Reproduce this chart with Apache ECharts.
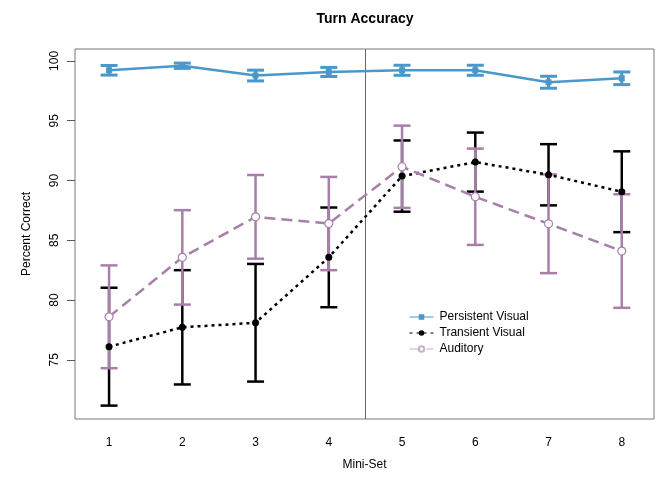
<!DOCTYPE html>
<html>
<head>
<meta charset="utf-8">
<script src="https://cdn.jsdelivr.net/npm/echarts@6/dist/echarts.min.js"></script>
<style>html,body{margin:0;padding:0;background:#fff}#c{width:656px;height:479px}</style>
</head>
<body>
<div id="c"></div>
<script>
const miniSet = [1, 2, 3, 4, 5, 6, 7, 8];
const persistentMean = [99.22, 99.6, 98.78, 99.08, 99.22, 99.22, 98.22, 98.55];
const persistentErr = [0.4, 0.22, 0.45, 0.38, 0.42, 0.42, 0.5, 0.53];
const transientMean = [76.1, 77.72, 78.1, 83.57, 90.37, 91.54, 90.48, 89.06];
const transientErr = [4.93, 4.78, 4.92, 4.17, 2.98, 2.47, 2.56, 3.38];
const auditoryMean = [78.6, 83.57, 86.96, 86.4, 91.15, 88.64, 86.38, 84.1];
const auditoryErr = [4.3, 3.95, 3.5, 3.9, 3.44, 4.03, 4.13, 4.75];
const yTicks = [75, 80, 85, 90, 95, 100];
const seriesNames = ['Persistent Visual', 'Transient Visual', 'Auditory'];
const dividerX = 4.5;

const BLUE = '#4a98c9', PURPLE = '#a87fa8', BLACK = '#000000';
const FONT = '"Liberation Sans", Arial, sans-serif';

function pts(means) { return miniSet.map((x, i) => [x, means[i]]); }
function errs(means, e) { return miniSet.map((x, i) => [x, means[i] - e[i], means[i] + e[i]]); }
function errSeries(name, data, color, lw, z) {
  return {
    type: 'custom', name: name, silent: true, z: z,
    encode: { x: 0, y: [1, 2] },
    data: data,
    renderItem: function (params, api) {
      const x = api.value(0), lo = api.value(1), hi = api.value(2);
      const a = api.coord([x, hi]), b = api.coord([x, lo]);
      const w = 8.5;
      const st = { stroke: color, lineWidth: lw };
      return { type: 'group', children: [
        { type: 'line', shape: { x1: a[0], y1: a[1], x2: b[0], y2: b[1] }, style: st },
        { type: 'line', shape: { x1: a[0] - w, y1: a[1], x2: a[0] + w, y2: a[1] }, style: st },
        { type: 'line', shape: { x1: b[0] - w, y1: b[1], x2: b[0] + w, y2: b[1] }, style: st }
      ]};
    }
  };
}

const chart = echarts.init(document.getElementById('c'));
chart.setOption({
  animation: false,
  backgroundColor: '#fff',
  textStyle: { fontFamily: FONT },
  graphic: [{
    type: 'text', x: 365, y: 19,
    style: { text: 'Turn Accuracy', font: 'bold 14px ' + FONT, fill: '#000', textAlign: 'center', textVerticalAlign: 'middle' }
  }],
  grid: { left: 75, top: 49, right: 2, bottom: 60, show: true, borderColor: '#777', borderWidth: 1, containLabel: false },
  xAxis: {
    type: 'value', min: 0.535, max: 8.44,
    name: 'Mini-Set', nameLocation: 'middle', nameGap: 40,
    nameTextStyle: { fontSize: 12, color: '#000', fontFamily: FONT },
    axisLine: { show: false }, axisTick: { show: false }, splitLine: { show: false },
    axisLabel: { customValues: miniSet, fontSize: 12, color: '#000', margin: 18, fontFamily: FONT }
  },
  yAxis: {
    type: 'value', min: 70.05, max: 101.0,
    name: 'Percent Correct', nameLocation: 'middle', nameGap: 42,
    nameTextStyle: { fontSize: 12, color: '#000', fontFamily: FONT },
    axisLine: { show: false }, splitLine: { show: false },
    axisTick: { show: true, customValues: yTicks, length: 8, lineStyle: { color: '#555' } },
    axisLabel: { customValues: yTicks, rotate: 90, fontSize: 12, color: '#000', margin: 14, fontFamily: FONT }
  },
  legend: {
    orient: 'vertical', left: 404, top: 306, itemWidth: 24, itemHeight: 7, itemGap: 4,
    textStyle: { fontSize: 12, color: '#000', fontFamily: FONT, padding: [0, 0, 0, 1] },
    data: [
      { name: seriesNames[0], lineStyle: { width: 1 }, itemStyle: { color: BLUE } },
      { name: seriesNames[1], lineStyle: { width: 1 } },
      { name: seriesNames[2], lineStyle: { width: 1, opacity: 0.6 }, itemStyle: { opacity: 0.6 } }
    ]
  },
  series: [
    errSeries('pv-err', errs(persistentMean, persistentErr), BLUE, 3, 2),
    errSeries('tv-err', errs(transientMean, transientErr), BLACK, 2.5, 3),
    errSeries('au-err', errs(auditoryMean, auditoryErr), PURPLE, 2.5, 4),
    {
      type: 'line', name: seriesNames[0], data: pts(persistentMean), z: 5,
      symbol: 'rect', symbolSize: 6, itemStyle: { color: BLUE },
      lineStyle: { color: BLUE, width: 2.5 },
      markLine: {
        silent: true, symbol: 'none', label: { show: false },
        lineStyle: { color: '#666', width: 1, type: 'solid' },
        data: [{ xAxis: dividerX }]
      }
    },
    {
      type: 'line', name: seriesNames[1], data: pts(transientMean), z: 6,
      symbol: 'circle', symbolSize: 7, itemStyle: { color: BLACK },
      lineStyle: { color: BLACK, width: 2.5, type: [3, 4] }
    },
    {
      type: 'line', name: seriesNames[2], data: pts(auditoryMean), z: 7,
      symbol: 'circle', symbolSize: 8,
      itemStyle: { color: '#fff', borderColor: PURPLE, borderWidth: 1.2 },
      lineStyle: { color: PURPLE, width: 2.5, type: [11, 6] }
    }
  ]
});
</script>
</body>
</html>
